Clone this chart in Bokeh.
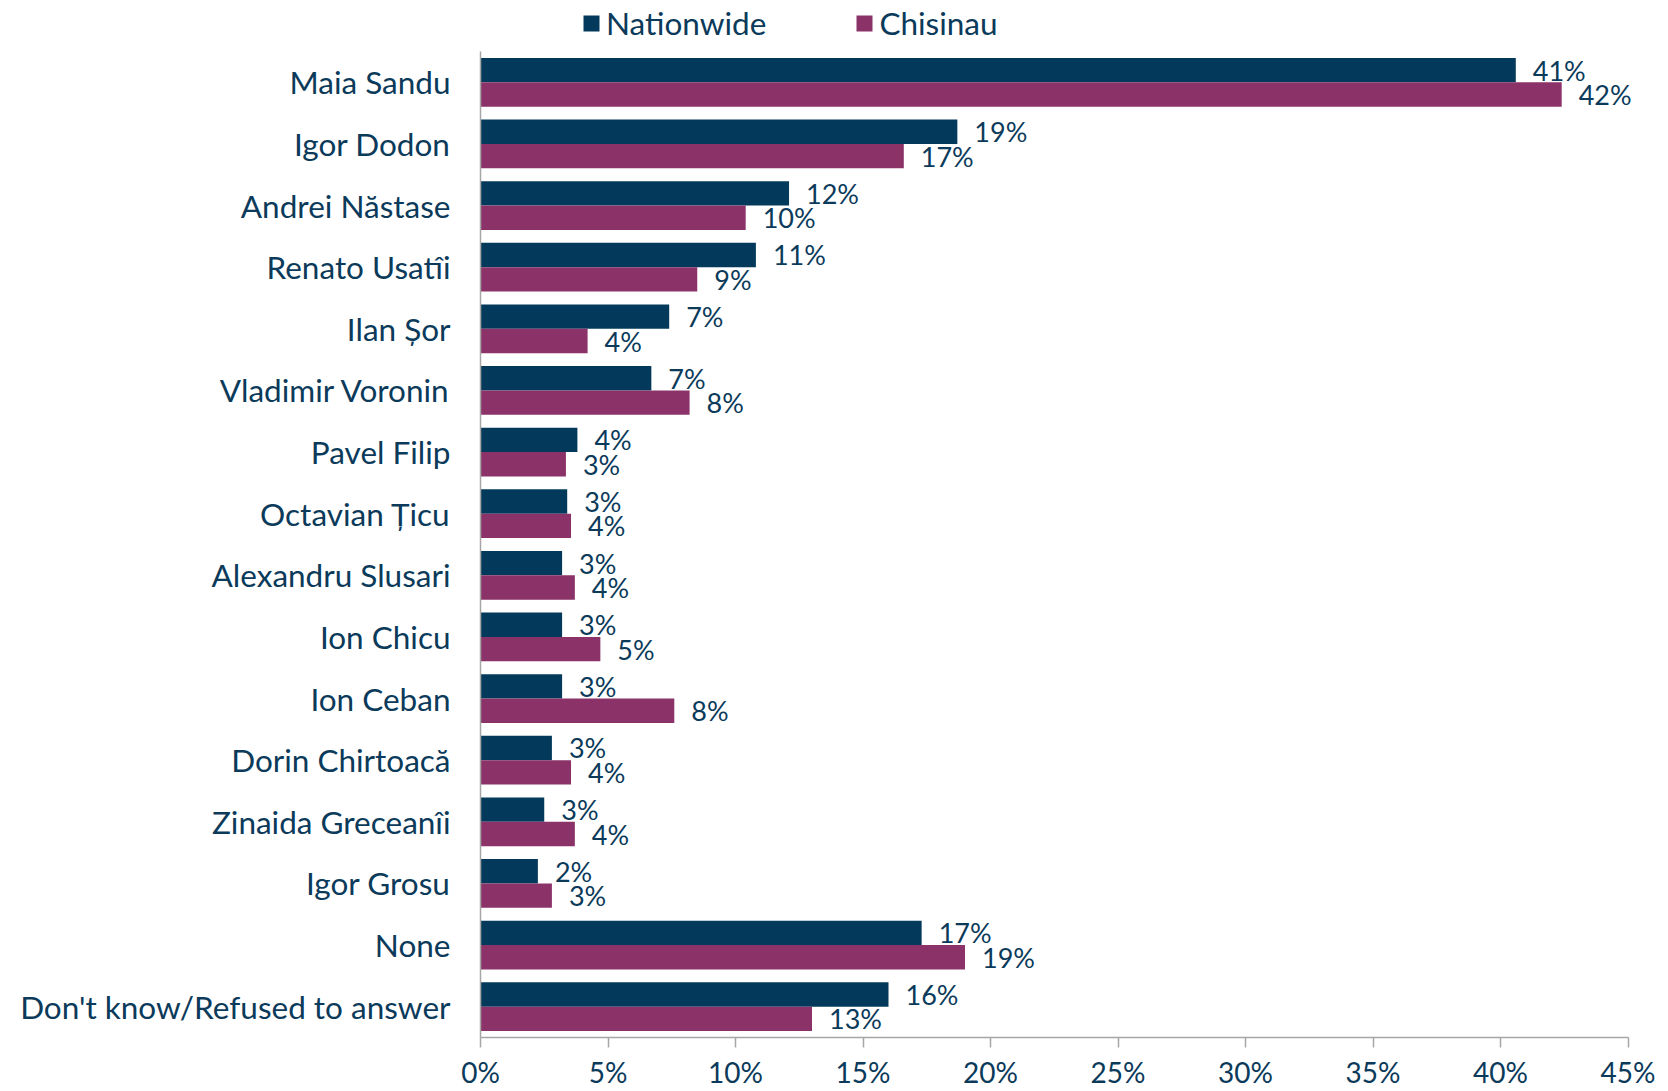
from bokeh.plotting import figure
from bokeh.layouts import column
from bokeh.models import FactorRange, Range1d, ColumnDataSource, Legend, LegendItem, FixedTicker
from bokeh.transform import dodge
from bokeh.core.properties import value
from bokeh.embed import file_html
from bokeh.resources import INLINE

categories = ["Maia Sandu", "Igor Dodon", "Andrei Năstase", "Renato Usatîi", "Ilan Șor",
              "Vladimir Voronin", "Pavel Filip", "Octavian Țicu", "Alexandru Slusari",
              "Ion Chicu", "Ion Ceban", "Dorin Chirtoacă", "Zinaida Greceanîi",
              "Igor Grosu", "None", "Don't know/Refused to answer"]
nationwide = [40.6, 18.7, 12.1, 10.8, 7.4, 6.7, 3.8, 3.4, 3.2, 3.2, 3.2, 2.8, 2.5, 2.25, 17.3, 16.0]
chisinau = [42.4, 16.6, 10.4, 8.5, 4.2, 8.2, 3.35, 3.55, 3.7, 4.7, 7.6, 3.55, 3.7, 2.8, 19.0, 13.0]
nationwide_labels = ["41%", "19%", "12%", "11%", "7%", "7%", "4%", "3%", "3%", "3%", "3%", "3%", "3%", "2%", "17%", "16%"]
chisinau_labels = ["42%", "17%", "10%", "9%", "4%", "8%", "3%", "4%", "4%", "5%", "8%", "4%", "4%", "3%", "19%", "13%"]
series_names = ["Nationwide", "Chisinau"]
x_ticks = [0, 5, 10, 15, 20, 25, 30, 35, 40, 45]
x_tick_labels = ["0%", "5%", "10%", "15%", "20%", "25%", "30%", "35%", "40%", "45%"]

NAVY = "#033A5B"
PLUM = "#8B3369"
TEXT = "#0B3A5A"
AXIS = "#A6A6A6"
FONT = "Lato"
NUMFONT = "Lato"

src = ColumnDataSource(dict(cat=categories, nat=nationwide, chi=chisinau,
                            nat_lbl=nationwide_labels, chi_lbl=chisinau_labels))

# ---- main chart ----
# x range runs a little past 45% so that end labels are not clipped; axis line stops at 45%
p = figure(width=1668, height=1040,
           y_range=FactorRange(factors=categories[::-1], range_padding=0),
           x_range=Range1d(0, 46),
           output_backend="svg", toolbar_location=None,
           min_border_left=480, min_border_right=15, min_border_top=0, min_border_bottom=54)
p.outline_line_color = None
p.xgrid.grid_line_color = None
p.ygrid.grid_line_color = None

bh = 0.396
p.hbar(y=dodge("cat", bh / 2, range=p.y_range), left=0, right="nat", height=bh,
       source=src, fill_color=NAVY, line_color=None)
p.hbar(y=dodge("cat", -bh / 2, range=p.y_range), left=0, right="chi", height=bh,
       source=src, fill_color=PLUM, line_color=None)

p.text(x="nat", y=dodge("cat", bh / 2, range=p.y_range), text="nat_lbl", source=src,
       x_offset=17, text_baseline="middle", text_align="left",
       text_font=value(NUMFONT), text_font_size="27px", text_color=TEXT)
p.text(x="chi", y=dodge("cat", -bh / 2, range=p.y_range), text="chi_lbl", source=src,
       x_offset=17, text_baseline="middle", text_align="left",
       text_font=value(NUMFONT), text_font_size="27px", text_color=TEXT)

p.xaxis.bounds = (x_ticks[0], x_ticks[-1])
p.xaxis.ticker = FixedTicker(ticks=x_ticks)
p.xaxis.major_label_overrides = {t: l for t, l in zip(x_ticks, x_tick_labels)}
p.xaxis.axis_line_color = AXIS
p.xaxis.axis_line_width = 1.5
p.xaxis.major_tick_line_color = AXIS
p.xaxis.major_tick_line_width = 1.5
p.xaxis.major_tick_in = 0
p.xaxis.major_tick_out = 10
p.xaxis.minor_tick_line_color = None
p.xaxis.major_label_standoff = 7
p.xaxis.major_label_text_font = NUMFONT
p.xaxis.major_label_text_font_size = "28px"
p.xaxis.major_label_text_color = TEXT

p.yaxis.axis_line_color = AXIS
p.yaxis.axis_line_width = 1.5
p.yaxis.major_tick_line_color = None
p.yaxis.major_tick_out = 0
p.yaxis.major_tick_in = 0
p.yaxis.major_label_standoff = 30
p.yaxis.major_label_text_font = FONT
p.yaxis.major_label_text_font_size = "31.5px"
p.yaxis.major_label_text_color = TEXT

# ---- legend strip (frame aligned with main chart by the column layout) ----
lg = figure(width=1668, height=51, x_range=Range1d(0, 1), y_range=Range1d(0, 1),
            output_backend="svg", toolbar_location=None, min_border=0)
lg.axis.visible = False
lg.grid.visible = False
lg.outline_line_color = None
# swatch renderers kept outside the visible strip; only their legend glyphs show
offscreen = ColumnDataSource(dict(y=[-10], r=[1]))
r1 = lg.hbar(y="y", right="r", height=1, source=offscreen, fill_color=NAVY, line_color=None)
r2 = lg.hbar(y="y", right="r", height=1, source=offscreen, fill_color=PLUM, line_color=None)
legend = Legend(items=[LegendItem(label=series_names[0], renderers=[r1]),
                       LegendItem(label=series_names[1], renderers=[r2])],
                location=(101, 9), orientation="horizontal",
                glyph_width=20, glyph_height=20, label_standoff=5, spacing=88,
                padding=0, margin=0, border_line_color=None, background_fill_alpha=0,
                label_text_font=FONT, label_text_font_size="31.5px", label_text_color=TEXT)
lg.add_layout(legend, "center")

layout = column(lg, p, spacing=0)
open("out.html", "w").write(file_html(layout, INLINE))
